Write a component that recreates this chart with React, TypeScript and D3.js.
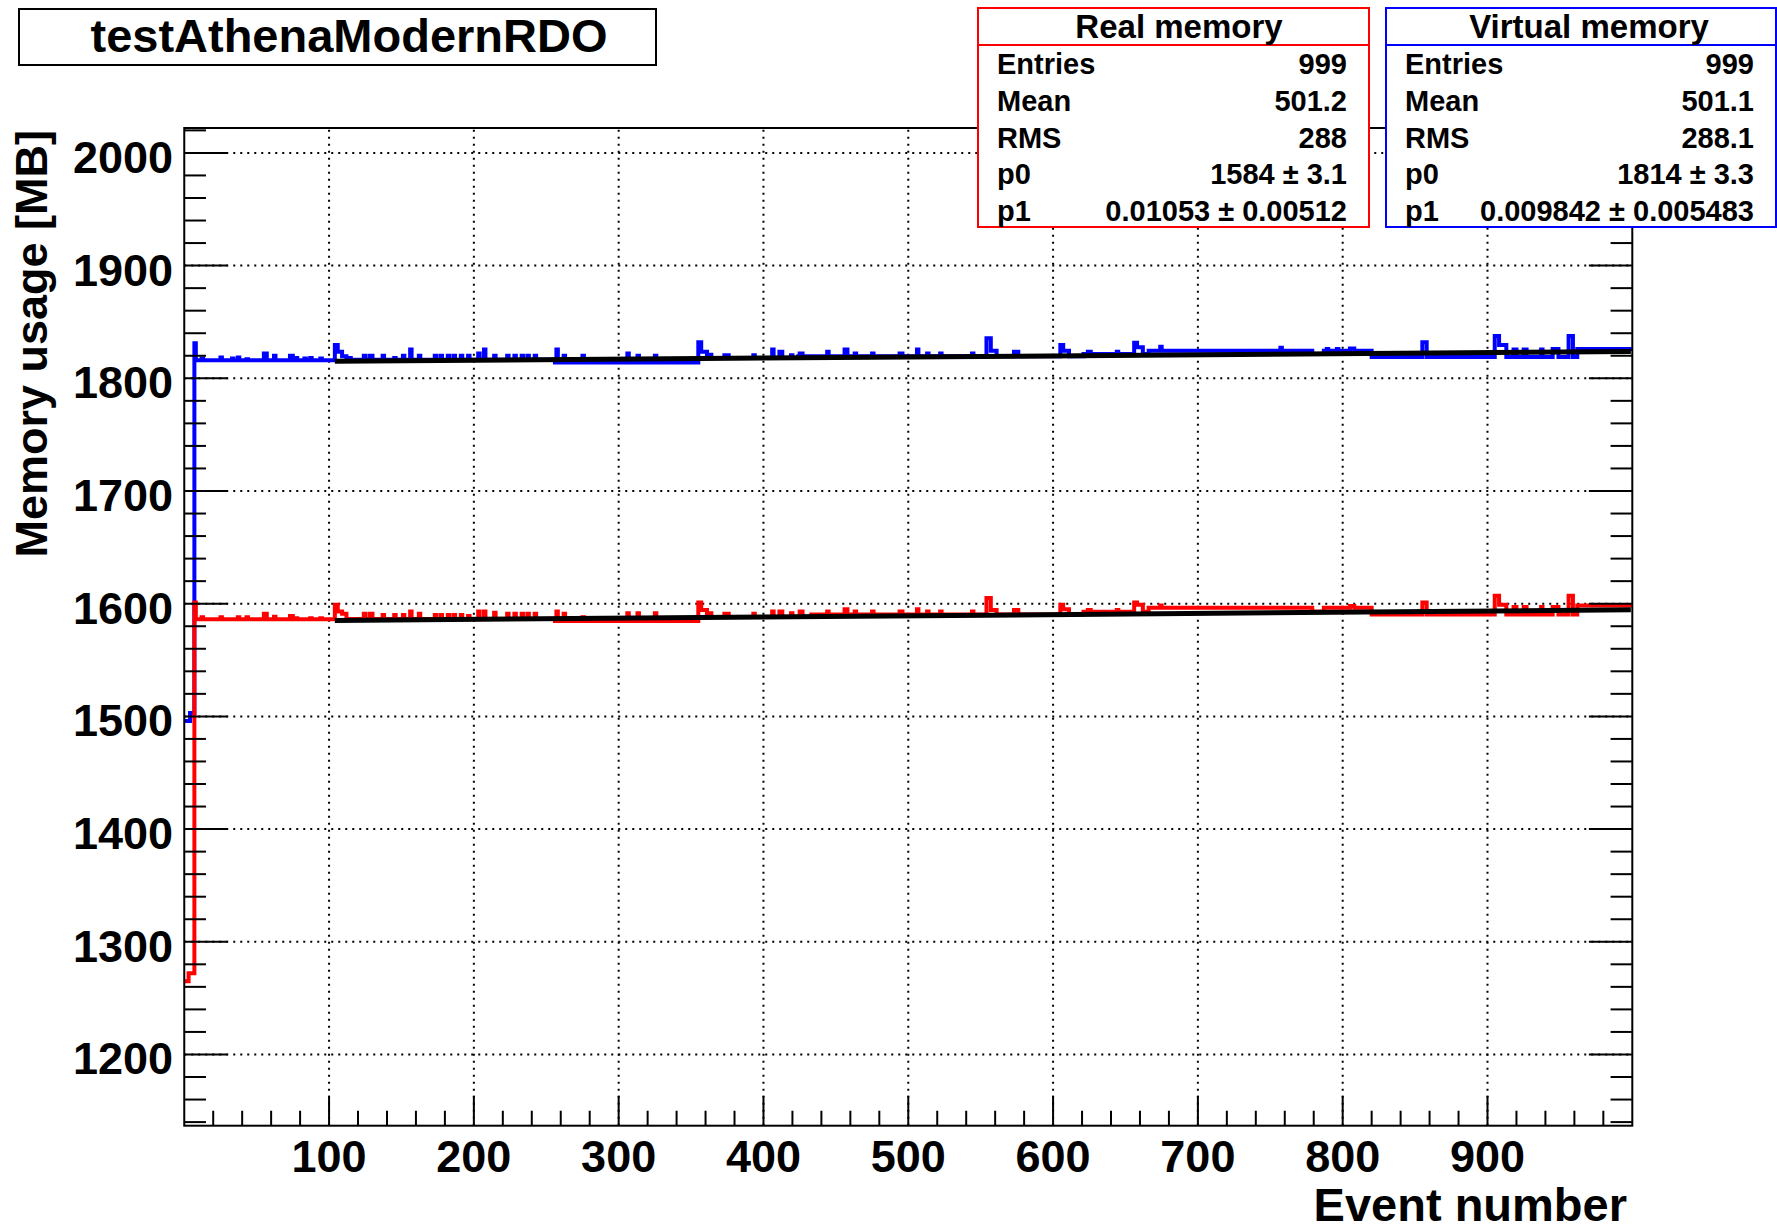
import * as d3 from "d3";

const NBINS = 1000;

// baseline levels: [first bin, MB]
const realBase: [number, number][] = [
  [0, 1265], [3, 1272], [7, 1586.3], [104, 1586.5], [256, 1584.6], [358, 1588.3],
  [433, 1590.4], [621, 1592.8], [666, 1596.5], [779, 1593], [787, 1596.5],
  [820, 1590.5], [962, 1598.5],
];
// bumps above the baseline: [first bin, end bin, MB]
const realBumps: [number, number, number][] = [
  [7, 8, 1601], [12, 13, 1588], [25, 26, 1588], [37, 38, 1588], [43, 44, 1588],
  [55, 57, 1591], [62, 63, 1588.5], [73, 75, 1589], [76, 78, 1587], [87, 88, 1587],
  [94, 95, 1587], [104, 106, 1599], [106, 109, 1593], [109, 112, 1591],
  [124, 125, 1591], [128, 130, 1591], [137, 138, 1590], [145, 146, 1590],
  [151, 152, 1590], [156, 157, 1593], [162, 163, 1591], [173, 174, 1590],
  [177, 178, 1590], [182, 183, 1590], [186, 187, 1590], [191, 192, 1590],
  [196, 197, 1589], [203, 204, 1593], [207, 208, 1593], [214, 215, 1592],
  [223, 224, 1591], [228, 229, 1591], [233, 234, 1591], [237, 238, 1591],
  [242, 243, 1591], [257, 258, 1593], [262, 263, 1591], [275, 276, 1588],
  [306, 307, 1591.5], [313, 314, 1591.5], [325, 326, 1591.5],
  [355, 357, 1601], [357, 361, 1594.5], [361, 364, 1591.5], [373, 376, 1591],
  [393, 394, 1591], [406, 407, 1593], [411, 413, 1593], [419, 420, 1591.5],
  [425, 427, 1593], [444, 445, 1593], [456, 458, 1595], [463, 464, 1593],
  [475, 476, 1593], [494, 496, 1593], [506, 507, 1595], [513, 514, 1593],
  [522, 523, 1593], [544, 545, 1593], [554, 557, 1605], [557, 561, 1594.5],
  [573, 576, 1594.5], [605, 607, 1599], [607, 611, 1595], [624, 626, 1594.5],
  [644, 645, 1594.5], [656, 658, 1601], [658, 662, 1599], [674, 675, 1598.5],
  [805, 808, 1598], [855, 858, 1601], [905, 908, 1607], [908, 913, 1599],
  [918, 920, 1597], [925, 927, 1597], [937, 938, 1597], [945, 949, 1597],
  [956, 959, 1607],
];

const virtualBase: [number, number][] = [
  [0, 1496], [4, 1503], [7, 1816], [104, 1816.5], [256, 1814], [358, 1818],
  [424, 1819.5], [621, 1821.5], [666, 1824.5], [779, 1821.5], [787, 1824.5],
  [820, 1819], [962, 1826],
];
const virtualBumps: [number, number, number][] = [
  [7, 8, 1831], [12, 13, 1817.5], [25, 26, 1818.5], [33, 34, 1817.5], [37, 38, 1818.5],
  [43, 44, 1817], [55, 57, 1822], [62, 63, 1820], [73, 75, 1820], [76, 78, 1818],
  [83, 84, 1817.5], [87, 88, 1818], [94, 95, 1817.5], [104, 106, 1829.5],
  [106, 109, 1823.5], [109, 112, 1819.5], [112, 115, 1818], [124, 125, 1820],
  [128, 130, 1820], [137, 138, 1820], [145, 146, 1818], [151, 152, 1820],
  [156, 157, 1825.5], [162, 163, 1820], [173, 174, 1820], [177, 178, 1820],
  [182, 183, 1820], [186, 187, 1820], [191, 192, 1820], [196, 197, 1820],
  [203, 204, 1822], [207, 208, 1825.5], [214, 215, 1820], [223, 224, 1820],
  [228, 229, 1820], [233, 234, 1820], [237, 238, 1820], [242, 243, 1820],
  [257, 258, 1825.5], [262, 263, 1820], [275, 276, 1820], [306, 307, 1822],
  [313, 314, 1820], [325, 326, 1820], [355, 357, 1832], [357, 361, 1823.5],
  [361, 364, 1821], [373, 376, 1820.5], [393, 394, 1820.5], [406, 407, 1825.5],
  [411, 413, 1823.5], [419, 420, 1820.5], [425, 427, 1822], [444, 445, 1823.5],
  [456, 458, 1825.5], [463, 464, 1822], [475, 476, 1822], [494, 496, 1822],
  [506, 507, 1825.5], [513, 514, 1822], [522, 523, 1822], [544, 545, 1822],
  [554, 557, 1835.5], [557, 561, 1824.5], [573, 576, 1823.5], [605, 607, 1829.5],
  [607, 611, 1824.5], [624, 626, 1823.5], [644, 645, 1823.5], [656, 658, 1831.5],
  [658, 662, 1827.5], [674, 675, 1828], [757, 758, 1827], [789, 790, 1826],
  [796, 797, 1826], [805, 808, 1826.5], [855, 858, 1832], [905, 908, 1837.5],
  [908, 913, 1829.5], [918, 920, 1825.5], [925, 927, 1825.5], [937, 938, 1825.5],
  [945, 949, 1826], [956, 959, 1837.5],
];

// linear fits p0 + p1*x
const realFit = { p0: 1584, p1: 0.01053, from: 104, to: 999 };
const virtualFit = { p0: 1814, p1: 0.009842, from: 104, to: 999 };

const xTickLabels = [100, 200, 300, 400, 500, 600, 700, 800, 900];
const yTickLabels = [1200, 1300, 1400, 1500, 1600, 1700, 1800, 1900, 2000];

const realStats = [
  ["Entries", "999"],
  ["Mean", "501.2"],
  ["RMS", "288"],
  ["p0", "1584 \u00b1 3.1"],
  ["p1", "0.01053 \u00b1 0.00512"],
];
const virtualStats = [
  ["Entries", "999"],
  ["Mean", "501.1"],
  ["RMS", "288.1"],
  ["p0", "1814 \u00b1 3.3"],
  ["p1", "0.009842 \u00b1 0.005483"],
];

function buildSeries(base: [number, number][], bumps: [number, number, number][]) {
  const out: number[] = [];
  let k = 0;
  for (let i = 0; i < NBINS; i++) {
    while (k + 1 < base.length && base[k + 1][0] <= i) k++;
    out.push(base[k][1]);
  }
  bumps.forEach(([a, b, v]) => {
    for (let i = a; i < b; i++) out[i] = v;
  });
  return out;
}

const W = 1777;
const H = 1231;
const frame = { left: 184.25, right: 1632.3, top: 128, bottom: 1125.7 };
const FONT = "'Liberation Sans', Arial, Helvetica, sans-serif";

export default function App() {
  const x = d3.scaleLinear().domain([0, 1000]).range([frame.left, frame.right]);
  const y = d3.scaleLinear().domain([1136.8, 2022.1]).range([frame.bottom, frame.top]);

  const stepLine = d3
    .line<[number, number]>()
    .x((d) => x(d[0]))
    .y((d) => y(d[1]))
    .curve(d3.curveStepAfter);

  const toPoints = (vals: number[]): [number, number][] => {
    const pts = vals.map((v, i) => [i, v] as [number, number]);
    pts.push([NBINS, vals[vals.length - 1]]);
    return pts;
  };

  const real = buildSeries(realBase, realBumps);
  const virt = buildSeries(virtualBase, virtualBumps);

  const fitLine = (f: typeof realFit) =>
    d3.line<number>().x((d) => x(d)).y((d) => y(f.p0 + f.p1 * d))([f.from, f.to]) ?? "";

  const yMinor = d3.range(1140, 2021, 20).filter((v) => v % 100 !== 0);
  const xMinor = d3.range(20, 1000, 20).filter((v) => v % 100 !== 0);
  const fw = frame.right - frame.left;
  const fh = frame.bottom - frame.top;
  const yMajLen = 0.03 * fw;
  const xMajLen = 0.03 * fh;

  const statBox = (
    x0: number,
    x1: number,
    color: string,
    title: string,
    rows: string[][],
    titleX: number
  ) => (
    <g>
      <rect x={x0} y={8} width={x1 - x0} height={219} fill="white" stroke={color} strokeWidth={2} />
      <line x1={x0} x2={x1} y1={45} y2={45} stroke={color} strokeWidth={2} />
      <text x={titleX} y={38} textAnchor="middle" fontSize={33} fontWeight="bold" fontFamily={FONT}>
        {title}
      </text>
      {rows.map(([k, v], i) => (
        <g key={k} fontSize={29} fontWeight="bold" fontFamily={FONT}>
          <text x={x0 + 19} y={74 + i * 36.8}>{k}</text>
          <text x={x1 - 22} y={74 + i * 36.8} textAnchor="end">{v}</text>
        </g>
      ))}
    </g>
  );

  return (
    <svg
      width={W}
      height={H}
      viewBox={`0 0 ${W} ${H}`}
      style={{ position: "absolute", left: 0, top: 0, background: "white" }}
    >
      <defs>
        <clipPath id="frameClip">
          <rect x={frame.left} y={frame.top} width={fw} height={fh} />
        </clipPath>
      </defs>
      <rect x={0} y={0} width={W} height={H} fill="white" />

      {/* grid */}
      <g stroke="black" strokeWidth={2} strokeDasharray="2 5">
        {xTickLabels.map((v) => (
          <line key={v} x1={x(v)} x2={x(v)} y1={frame.bottom} y2={frame.top} />
        ))}
        {yTickLabels.map((v) => (
          <line key={v} x1={frame.left} x2={frame.right} y1={y(v)} y2={y(v)} />
        ))}
      </g>

      {/* histograms and fits */}
      <g clipPath="url(#frameClip)" fill="none" strokeWidth={4}>
        <path d={stepLine(toPoints(virt)) ?? ""} stroke="#0000ff" />
        <path d={stepLine(toPoints(real)) ?? ""} stroke="#ff0000" />
        <path d={fitLine(virtualFit)} stroke="black" strokeWidth={5} />
        <path d={fitLine(realFit)} stroke="black" strokeWidth={5} />
      </g>

      {/* frame and ticks */}
      <rect x={frame.left} y={frame.top} width={fw} height={fh} fill="none" stroke="black" strokeWidth={2} />
      <g stroke="black" strokeWidth={2}>
        {yTickLabels.map((v) => (
          <g key={v}>
            <line x1={frame.left} x2={frame.left + yMajLen} y1={y(v)} y2={y(v)} />
            <line x1={frame.right} x2={frame.right - yMajLen} y1={y(v)} y2={y(v)} />
          </g>
        ))}
        {yMinor.map((v) => (
          <g key={v}>
            <line x1={frame.left} x2={frame.left + yMajLen / 2} y1={y(v)} y2={y(v)} />
            <line x1={frame.right} x2={frame.right - yMajLen / 2} y1={y(v)} y2={y(v)} />
          </g>
        ))}
        {xTickLabels.map((v) => (
          <line key={v} x1={x(v)} x2={x(v)} y1={frame.bottom} y2={frame.bottom - xMajLen} />
        ))}
        {xMinor.map((v) => (
          <line key={v} x1={x(v)} x2={x(v)} y1={frame.bottom} y2={frame.bottom - xMajLen / 2} />
        ))}
      </g>

      {/* tick labels */}
      <g fontSize={45} fontWeight="bold" fontFamily={FONT}>
        {yTickLabels.map((v) => (
          <text key={v} x={173} y={y(v) + 20} textAnchor="end">{v}</text>
        ))}
        {xTickLabels.map((v) => (
          <text key={v} x={x(v)} y={1172} textAnchor="middle">{v}</text>
        ))}
      </g>

      {/* axis titles */}
      <text x={1627} y={1221} textAnchor="end" fontSize={47} fontWeight="bold" fontFamily={FONT}>
        Event number
      </text>
      <text
        transform="translate(47,130) rotate(-90)"
        textAnchor="end"
        fontSize={45}
        fontWeight="bold"
        fontFamily={FONT}
      >
        Memory usage [MB]
      </text>

      {/* title box */}
      <rect x={19} y={9} width={637} height={56} fill="white" stroke="black" strokeWidth={2} />
      <text x={349} y={52} textAnchor="middle" fontSize={47} fontWeight="bold" fontFamily={FONT}>
        testAthenaModernRDO
      </text>

      {statBox(978, 1369, "#ff0000", "Real memory", realStats, 1179)}
      {statBox(1386, 1776, "#0000ff", "Virtual memory", virtualStats, 1589)}
    </svg>
  );
}
